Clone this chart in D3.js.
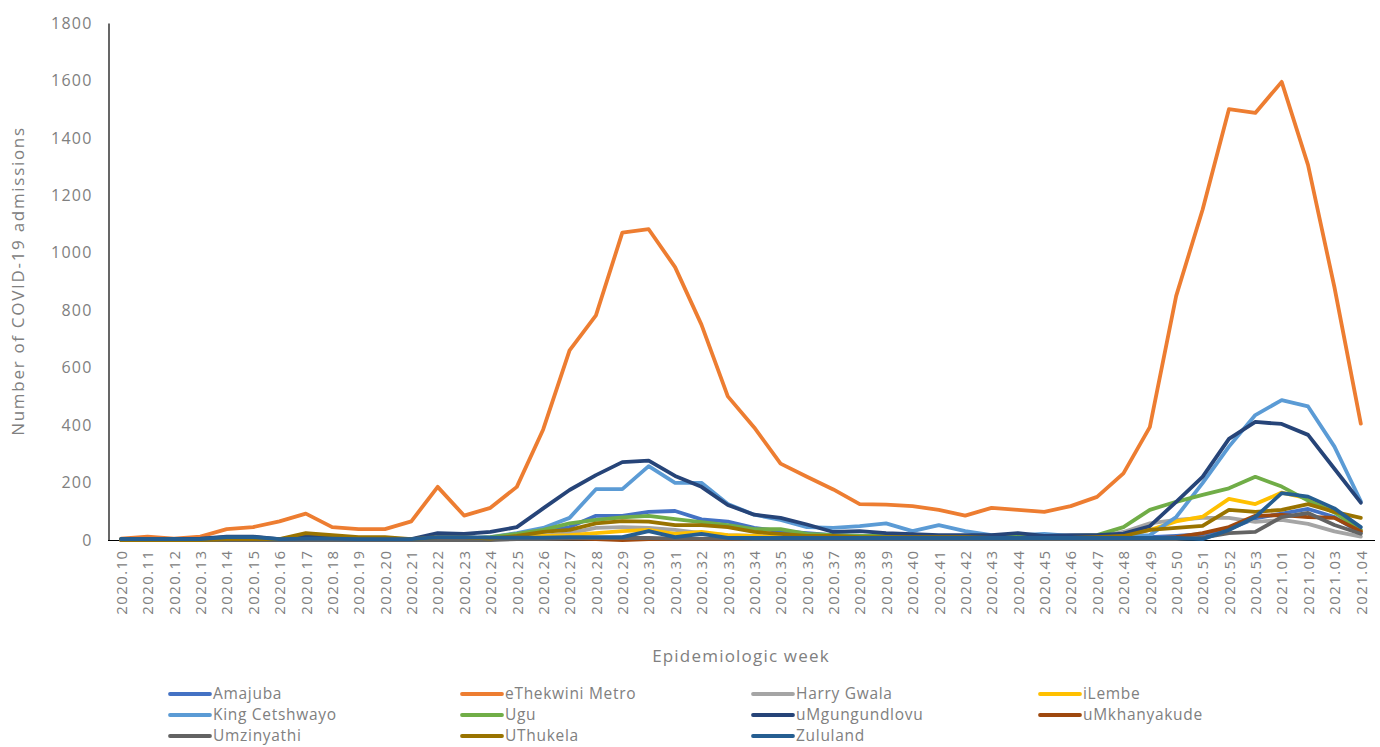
<!DOCTYPE html>
<html><head><meta charset="utf-8">
<script src="https://cdn.jsdelivr.net/npm/d3@7"></script>
<style>
body{margin:0;background:#fff;}
text{font-family:"Open Sans",sans-serif;fill:#808080;}
</style></head>
<body><svg id="c" width="1380" height="747"></svg>
<script>
const weeks = ["2020.10","2020.11","2020.12","2020.13","2020.14","2020.15","2020.16","2020.17","2020.18","2020.19","2020.20","2020.21","2020.22","2020.23","2020.24","2020.25","2020.26","2020.27","2020.28","2020.29","2020.30","2020.31","2020.32","2020.33","2020.34","2020.35","2020.36","2020.37","2020.38","2020.39","2020.40","2020.41","2020.42","2020.43","2020.44","2020.45","2020.46","2020.47","2020.48","2020.49","2020.50","2020.51","2020.52","2020.53","2021.01","2021.02","2021.03","2021.04"];
const yTicks = [0,200,400,600,800,1000,1200,1400,1600,1800];
const seriesNames = ["Amajuba","eThekwini Metro","Harry Gwala","iLembe","King Cetshwayo","Ugu","uMgungundlovu","uMkhanyakude","Umzinyathi","UThukela","Zululand"];
const seriesColors = ["#4472c4","#ed7d31","#a5a5a5","#ffc000","#5b9bd5","#70ad47","#264478","#9e480e","#636363","#997300","#255e91"];
const amajuba = [3,3,3,3,5,5,3,5,5,3,3,3,5,5,8,14,28,45,84,84,98,101,72,64,42,31,24,17,14,14,10,10,10,7,7,7,7,7,7,10,14,20,38,75,92,108,80,25];
const ethekwini = [5,12,5,12,38,45,65,92,45,38,38,65,185,85,112,185,385,660,782,1070,1082,950,750,500,392,266,220,176,125,123,118,105,85,112,105,98,118,150,232,393,850,1150,1500,1487,1595,1305,880,405];
const harryGwala = [0,0,0,0,0,0,0,3,3,0,0,0,3,3,5,10,14,24,42,45,42,35,24,17,14,10,10,10,10,7,7,7,7,7,7,7,7,10,28,58,70,77,77,63,70,56,30,12];
const iLembe = [0,0,0,0,0,0,0,3,3,0,0,0,3,3,5,10,14,17,24,31,35,21,28,17,14,10,10,10,7,7,7,7,7,7,7,7,7,10,15,35,65,81,143,125,165,145,107,30];
const kingCetshwayo = [3,3,3,3,3,3,3,5,5,3,3,3,5,5,10,24,42,77,177,177,257,199,199,125,88,70,45,42,48,58,31,52,31,17,17,21,14,14,14,17,80,198,325,435,487,465,325,135];
const ugu = [3,3,3,3,3,3,3,5,5,3,3,3,5,5,10,21,35,58,70,79,84,73,62,52,38,38,21,17,14,14,14,14,14,14,14,14,14,17,45,105,133,157,180,220,186,137,96,35];
const uMgungundlovu = [3,3,3,5,12,12,3,12,10,5,5,3,24,21,28,45,110,174,226,271,276,223,185,122,88,77,54,28,31,24,20,17,17,17,24,14,17,17,22,48,133,220,352,411,404,366,248,130];
const uMkhanyakude = [0,0,0,0,0,0,0,0,0,0,0,0,3,3,3,3,5,5,3,0,3,3,3,3,3,3,3,3,3,3,3,3,3,3,3,3,3,3,3,5,10,24,45,84,87,80,77,30];
const umzinyathi = [0,0,0,0,0,0,0,0,0,0,0,0,0,0,0,3,3,5,7,7,7,5,5,5,3,3,3,3,3,3,3,3,3,3,3,3,3,3,3,3,3,8,24,28,80,94,52,22];
const uThukela = [0,0,0,0,3,3,3,24,17,10,10,3,10,10,5,14,28,35,58,66,64,52,52,45,28,21,14,14,10,10,10,10,10,7,7,7,7,10,14,35,42,49,105,98,105,125,98,77];
const zululand = [3,3,3,3,10,10,3,5,5,3,3,3,10,10,8,8,8,10,10,10,31,10,21,7,7,7,7,7,7,7,7,7,7,7,7,7,7,7,7,7,7,3,35,80,163,151,110,45];
const seriesValues = [amajuba,ethekwini,harryGwala,iLembe,kingCetshwayo,ugu,uMgungundlovu,uMkhanyakude,umzinyathi,uThukela,zululand];

const svg = d3.select("#c");
const x = d3.scalePoint().domain(weeks).range([108,1374]).padding(0.5);
const y = d3.scaleLinear().domain([0,1800]).range([540,23]);

// y axis
const yAxis = svg.append("g").attr("transform","translate(108.5,0)")
  .call(d3.axisLeft(y).tickValues(yTicks).tickFormat(d3.format("d")).tickSize(0).tickPadding(16));
yAxis.select(".domain").attr("stroke","#000").attr("stroke-width",1.2);
yAxis.selectAll("text").style("font-size","16px").style("letter-spacing","1.2px").attr("fill","#808080");

// x axis
const xAxis = svg.append("g").attr("transform","translate(0,540.5)")
  .call(d3.axisBottom(x).tickSize(0));
xAxis.select(".domain").attr("stroke","#000").attr("stroke-width",1.2).attr("d","M108,0H1375");
xAxis.selectAll("text")
  .style("font-size","15px").style("letter-spacing","1.4px").attr("fill","#808080")
  .attr("text-anchor","end").attr("transform","rotate(-90)")
  .attr("x",-9).attr("y",0).attr("dy","0.35em");

// lines
const line = d3.line().x((d,i)=>x(weeks[i])).y(d=>y(d));
seriesValues.forEach((vals,k)=>{
  svg.append("path").datum(vals).attr("d",line)
    .attr("fill","none").attr("stroke",seriesColors[k]).attr("stroke-width",3.8)
    .attr("stroke-linejoin","round").attr("stroke-linecap","round");
});

// axis titles
svg.append("text").attr("x",741).attr("y",662).attr("text-anchor","middle")
  .style("font-size","17px").style("letter-spacing","1.2px").text("Epidemiologic week");
svg.append("text").attr("transform","translate(24,281) rotate(-90)").attr("text-anchor","middle")
  .style("font-size","17px").style("letter-spacing","1.7px").text("Number of COVID-19 admissions");

// legend
const colX = [170,462,753,1040];
const rowY = [694,715,736];
seriesNames.forEach((n,k)=>{
  const cx = colX[k%4], cy = rowY[Math.floor(k/4)];
  svg.append("line").attr("x1",cx).attr("x2",cx+40).attr("y1",cy).attr("y2",cy)
    .attr("stroke",seriesColors[k]).attr("stroke-width",3.8).attr("stroke-linecap","round");
  svg.append("text").attr("x",cx+43).attr("y",cy).attr("dy","0.33em")
    .style("font-size","15.5px").style("letter-spacing","0.7px").text(n);
});
</script></body></html>
